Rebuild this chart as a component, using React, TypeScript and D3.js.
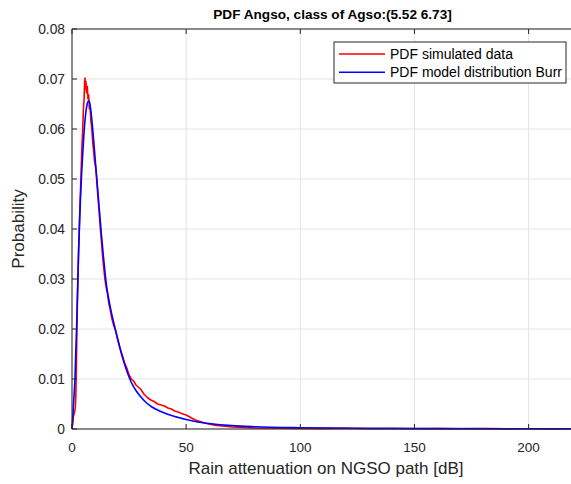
import React from "react";
import * as d3 from "d3";

const W = 571;
const H = 484;

const titleText = "PDF Angso, class of Agso:(5.52 6.73]";
const xLabel = "Rain attenuation on NGSO path [dB]";
const yLabel = "Probability";
const legendLabels = ["PDF simulated data", "PDF model distribution Burr"];

const xTicks = [0, 50, 100, 150, 200];
const yTicks = [0, 0.01, 0.02, 0.03, 0.04, 0.05, 0.06, 0.07, 0.08];

// simulated data (red)
const simX = [
  0, 0.3, 0.6, 0.9, 1.2, 1.5, 1.7, 1.9, 2.1, 2.3, 2.6, 2.9, 3.2, 3.5, 3.9, 4.3, 4.7, 5.0, 5.3, 5.5,
  5.7, 5.9, 6.1, 6.4, 6.7, 7.0, 7.3, 7.6, 7.9, 8.3, 8.7, 9.1, 9.5, 9.9, 10.3, 10.8, 11.3, 11.8, 12.4,
  12.9, 13.4, 13.9, 14.4, 15.0, 15.5, 16.1, 16.8, 17.4, 18.2, 19.0, 20.0, 21.0, 22.0, 23.0, 24.0,
  25.0, 26.0, 27.0, 28.0, 29.0, 30.0, 31.5, 33.0, 34.5, 36.0, 37.5, 39.0, 40.5, 42.0, 43.5, 45.0,
  46.5, 48.0, 50.0, 52.0, 54.0, 56.0, 58.0, 60.0, 63, 66, 70, 75, 80, 90, 100, 110, 120, 130, 140,
  150, 160, 170, 180, 190, 200, 210, 220,
];
const simY = [
  0, 0.001, 0.0025, 0.003, 0.0035, 0.0045, 0.007, 0.012, 0.018, 0.024, 0.03, 0.036, 0.04, 0.045, 0.05,
  0.056, 0.06, 0.064, 0.066, 0.069, 0.0702, 0.068, 0.0695, 0.0672, 0.0685, 0.066, 0.0668, 0.064,
  0.0645, 0.0615, 0.06, 0.0572, 0.0555, 0.0535, 0.0525, 0.05, 0.0468, 0.044, 0.0402, 0.0375, 0.0345,
  0.0322, 0.03, 0.0282, 0.0272, 0.0252, 0.0238, 0.0222, 0.0208, 0.0198, 0.018, 0.0162, 0.0148,
  0.0133, 0.0122, 0.0108, 0.01, 0.0096, 0.0088, 0.0084, 0.008, 0.007, 0.0063, 0.0058, 0.0055, 0.005,
  0.0048, 0.0046, 0.0042, 0.004, 0.0036, 0.0034, 0.0031, 0.0028, 0.0023, 0.0018, 0.0015, 0.0012,
  0.001, 0.0007, 0.0006, 0.0004, 0.0003, 0.0002, 0.00015, 0.0001, 0.00008, 0.00012, 0.00006, 0.0001,
  0.00005, 0.00008, 0.00004, 0.00007, 0.00003, 0.00006, 0.00003, 0.00005,
];

// Burr model (blue)
const burrX = [
  0, 0.3, 0.6, 1.0, 1.3, 1.6, 2.0, 2.4, 2.8, 3.2, 3.7, 4.2, 4.7, 5.2, 5.7, 6.2, 6.7, 7.2, 7.6, 8.0,
  8.5, 9.0, 9.5, 10.0, 10.6, 11.2, 11.8, 12.4, 13.0, 13.7, 14.4, 15.2, 16.0, 17.0, 18.0, 19.0, 20.0,
  21.0, 22.0, 23.0, 24.0, 25.0, 26.0, 28.0, 30.0, 32.0, 35.0, 40.0, 45.0, 50.0, 55.0, 60.0, 70.0,
  80.0, 100.0, 130.0, 160.0, 200.0, 220.0,
];
const burrY = [
  0, 0.002, 0.0045, 0.0075, 0.01, 0.0145, 0.02, 0.027, 0.034, 0.04, 0.046, 0.051, 0.055, 0.0588,
  0.0618, 0.0638, 0.0651, 0.0656, 0.0655, 0.0646, 0.0627, 0.0603, 0.0576, 0.0548, 0.0515, 0.0482,
  0.0448, 0.0415, 0.0383, 0.0348, 0.0316, 0.0284, 0.0262, 0.0238, 0.0218, 0.0199, 0.018, 0.0162,
  0.0145, 0.013, 0.0116, 0.0104, 0.0093, 0.0077, 0.0065, 0.0055, 0.0044, 0.0033, 0.0025, 0.0019,
  0.0014, 0.0011, 0.00068, 0.00046, 0.00025, 0.00013, 0.00008, 0.00005, 0.00004,
];

const FONT = "'Liberation Sans', Arial, Helvetica, sans-serif";

export default function App() {
  const left = 72;
  const top = 29;
  const bottom = 429;
  const x = d3.scaleLinear().domain([0, 200]).range([left, left + 200 * 2.283]);
  const y = d3.scaleLinear().domain([0, 0.08]).range([bottom, top]);
  const xMax = 220;
  const right = x(xMax);

  const simData = simX.map((v, i) => [v, simY[i]] as [number, number]);
  const burrData = burrX.map((v, i) => [v, burrY[i]] as [number, number]);

  const lineLin = d3
    .line<[number, number]>()
    .x((d) => x(d[0]))
    .y((d) => y(d[1]));
  const lineSmooth = d3
    .line<[number, number]>()
    .x((d) => x(d[0]))
    .y((d) => y(d[1]))
    .curve(d3.curveMonotoneX);

  const axisColor = "#262626";
  const gridColor = "#e3e3e3";

  const legX = 334;
  const legY = 42;
  const legW = 232;
  const legH = 41;

  return (
    <svg
      width={W}
      height={H}
      style={{ position: "absolute", left: 0, top: 0, background: "#fff" }}
      fontFamily={FONT}
    >
      <rect x={0} y={0} width={W} height={H} fill="#fff" />
      {/* grid */}
      {xTicks.map((t) => (
        <line key={"gx" + t} x1={x(t)} x2={x(t)} y1={top} y2={bottom} stroke={gridColor} strokeWidth={1} />
      ))}
      {yTicks.map((t) => (
        <line key={"gy" + t} x1={left} x2={right} y1={y(t)} y2={y(t)} stroke={gridColor} strokeWidth={1} />
      ))}
      {/* data */}
      <path d={lineLin(simData) || ""} fill="none" stroke="#ff0000" strokeWidth={1.6} strokeLinejoin="round" />
      <path d={lineSmooth(burrData) || ""} fill="none" stroke="#0000ff" strokeWidth={1.6} />
      {/* box */}
      <line x1={left} x2={right} y1={bottom} y2={bottom} stroke={axisColor} strokeWidth={1} />
      <line x1={left} x2={right} y1={top} y2={top} stroke={axisColor} strokeWidth={1} />
      <line x1={left} x2={left} y1={top} y2={bottom} stroke={axisColor} strokeWidth={1} />
      {/* ticks */}
      {xTicks.map((t) => (
        <g key={"tx" + t}>
          <line x1={x(t)} x2={x(t)} y1={bottom} y2={bottom - 5} stroke={axisColor} />
          <line x1={x(t)} x2={x(t)} y1={top} y2={top + 5} stroke={axisColor} />
          <text x={x(t)} y={452} textAnchor="middle" fontSize={13.5} fill={axisColor}>
            {t}
          </text>
        </g>
      ))}
      {yTicks.map((t) => (
        <g key={"ty" + t}>
          <line x1={left} x2={left + 5} y1={y(t)} y2={y(t)} stroke={axisColor} />
          <text x={left - 7} y={y(t) + 5} textAnchor="end" fontSize={13.8} fill={axisColor}>
            {t === 0 ? "0" : d3.format(".2f")(t)}
          </text>
        </g>
      ))}
      {/* labels */}
      <text x={332.5} y={19} textAnchor="middle" fontSize={13.6} fontWeight="bold" fill="#000">
        {titleText}
      </text>
      <text x={326} y={473.5} textAnchor="middle" fontSize={17} fill={axisColor}>
        {xLabel}
      </text>
      <text
        transform={`translate(24, ${(top + bottom) / 2}) rotate(-90)`}
        textAnchor="middle"
        fontSize={17}
        fill={axisColor}
      >
        {yLabel}
      </text>
      {/* legend */}
      <rect x={legX} y={legY} width={legW} height={legH} fill="#fff" stroke={axisColor} strokeWidth={1} />
      {legendLabels.map((lab, i) => {
        const ly = legY + 12 + i * 18.3;
        return (
          <g key={lab}>
            <line x1={legX + 5} x2={legX + 51} y1={ly} y2={ly} stroke={i === 0 ? "#ff0000" : "#0000ff"} strokeWidth={1.6} />
            <text x={legX + 56} y={ly + 5} fontSize={14} fill="#000">
              {lab}
            </text>
          </g>
        );
      })}
    </svg>
  );
}
